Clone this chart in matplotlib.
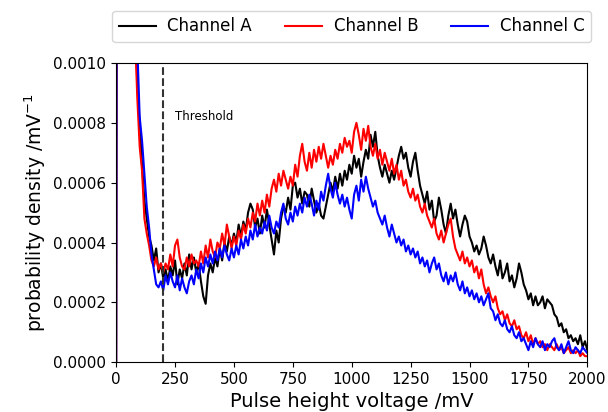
import numpy as np
import matplotlib
matplotlib.use("Agg")
import matplotlib.pyplot as plt

# Pulse height bins (mV), 10 mV spacing
voltage = np.arange(0, 2001, 10)

# probability densities in units of 1e-4 /mV
channel_a = [
    0, 60, 60, 50, 40, 30, 22, 16, 12, 9.2,
    8.0, 6.6, 5.4, 4.8, 4.2, 3.9, 3.4, 3.8, 3.0, 3.3,
    2.8, 3.1, 2.7, 3.2, 2.9, 3.4, 2.6, 3.1, 2.8, 3.3,
    2.9, 3.6, 3.1, 3.5, 3.0, 3.3, 2.7, 2.2, 1.95, 2.9,
    3.3, 3.0, 3.5, 3.2, 3.8, 3.4, 4.0, 3.7, 4.2, 3.9,
    4.3, 4.0, 4.6, 4.2, 4.7, 4.4, 5.0, 5.3, 5.1, 4.5,
    4.8, 4.3, 4.9, 4.5, 5.1, 4.6, 4.1, 3.6, 4.4, 4.0,
    4.8, 5.2, 5.0, 5.5, 5.1, 5.9, 6.0, 5.5, 5.8, 5.3,
    5.7, 5.6, 5.2, 5.8, 5.4, 5.0, 5.3, 4.9, 4.8, 5.2,
    5.6, 6.0, 5.7, 6.2, 5.8, 6.3, 5.9, 6.4, 6.1, 6.6,
    6.3, 6.9, 6.5, 6.8, 6.2, 6.7, 7.1, 6.8, 7.6, 7.2,
    7.7, 6.9, 6.5, 6.2, 6.6, 6.3, 6.0, 6.4, 6.1, 6.5,
    6.9, 7.2, 6.8, 7.0, 6.5, 6.2, 6.7, 7.0, 6.4, 5.9,
    5.6, 5.3, 5.7, 5.1, 5.4, 4.7, 4.9, 5.5, 5.1, 4.6,
    4.3, 4.9, 5.3, 4.8, 5.1, 4.6, 4.2, 4.6, 4.9, 4.7,
    4.2, 4.0, 3.7, 3.9, 3.6, 3.8, 4.2, 3.9, 3.5, 3.3,
    3.6, 3.2, 2.9, 3.4, 2.8, 3.0, 3.3, 2.7, 2.9, 2.5,
    2.8, 3.3, 3.0, 2.6, 2.4, 2.1, 2.3, 1.9, 2.2, 1.9,
    2.0, 2.2, 1.8, 2.1, 2.0, 1.9, 1.6, 1.5, 1.2, 1.3,
    1.0, 1.1, 0.8, 0.9, 0.7, 0.8, 0.6, 0.9, 0.5, 0.7,
    0.4,
]

channel_b = [
    0, 60, 60, 50, 40, 30, 22, 16, 11, 8.8,
    7.2, 6.4, 4.8, 4.3, 3.9, 3.4, 3.2, 3.5, 3.1, 3.3,
    3.0, 3.3, 3.1, 3.6, 3.2, 3.9, 4.1, 3.5, 3.2, 3.1,
    3.5, 3.2, 3.6, 3.3, 3.4, 3.2, 3.7, 3.3, 3.9, 3.5,
    4.1, 3.7, 3.5, 4.0, 3.8, 4.3, 3.9, 4.6, 4.2, 3.8,
    4.2, 3.9, 4.4, 4.1, 4.6, 4.3, 4.8, 4.5, 5.0, 4.7,
    5.3, 4.9, 5.4, 5.0, 5.6, 5.2, 5.8, 6.1, 5.7, 6.3,
    5.9, 6.4, 6.1, 5.8, 6.2, 5.9, 6.6, 6.2, 6.9, 7.3,
    6.7, 6.4, 7.0, 6.5, 7.1, 6.7, 7.2, 6.8, 7.3, 6.9,
    6.5, 6.9, 6.6, 7.1, 6.8, 7.3, 7.0, 7.5, 7.2, 7.4,
    7.0, 7.7, 8.0, 7.6, 7.1, 7.8, 7.4, 7.9, 7.2, 6.9,
    7.3, 6.8, 7.1, 6.6, 7.0, 6.7, 6.4, 6.8, 6.3, 6.6,
    6.1, 6.4, 5.9, 6.1, 5.7, 5.5, 5.8, 5.4, 5.6, 5.2,
    5.0, 5.3, 4.9, 4.7, 4.5, 4.8, 4.3, 4.1, 4.4, 4.0,
    4.3, 4.6, 4.8, 4.2, 3.8, 3.6, 3.4, 3.7, 3.3, 3.5,
    3.2, 3.4, 3.0, 3.2, 2.8, 3.1, 2.6, 2.3, 2.5, 2.2,
    2.0, 2.2, 1.8, 1.6, 1.7, 1.4, 1.6, 1.3, 1.2, 1.4,
    1.1, 1.2, 0.9, 0.8, 1.0, 0.7, 0.9, 0.6, 0.8, 0.6,
    0.7, 0.5, 0.6, 0.4, 0.6, 0.5, 0.4, 0.6, 0.4, 0.5,
    0.3, 0.4, 0.5, 0.3, 0.4, 0.3, 0.4, 0.2, 0.3, 0.2,
    0.2,
]

channel_c = [
    0, 60, 60, 50, 45, 35, 26, 20, 15, 10.5,
    8.2, 7.4, 6.3, 5.2, 4.5, 3.6, 3.1, 2.6, 2.5, 2.7,
    2.4, 2.9, 2.6, 3.0, 2.7, 2.5, 2.9, 2.4, 2.8, 2.5,
    2.3, 2.7, 2.9, 2.6, 3.1, 2.8, 3.3, 3.0, 3.5, 3.2,
    3.6, 3.3, 3.7, 3.4, 3.8, 3.5, 3.9, 3.6, 3.4, 3.8,
    3.5, 3.9, 3.6, 4.1, 3.8, 4.2, 3.9, 4.4, 4.1, 4.6,
    4.2, 4.5, 4.3, 4.7, 4.4, 4.9, 4.5, 4.3, 4.7, 4.5,
    5.0, 5.3, 4.8, 4.6, 5.0, 4.7, 5.2, 4.9, 5.3, 5.0,
    5.5, 5.2, 5.6, 5.3, 4.9, 5.4, 5.1, 5.7, 5.4, 5.9,
    6.3, 5.8, 5.5, 6.0, 5.6, 5.3, 5.6, 5.2, 5.5, 5.1,
    4.8, 5.6, 5.9, 5.4, 6.1, 5.7, 6.2, 5.8, 5.5, 5.2,
    5.4, 5.0, 4.8, 4.6, 4.9, 4.5, 4.2, 4.6, 4.3, 4.0,
    4.2, 3.9, 4.1, 3.7, 3.9, 3.6, 3.8, 3.5, 3.7, 3.3,
    3.5, 3.2, 3.4, 3.0, 3.3, 3.5, 3.1, 3.3, 2.9, 2.7,
    3.0, 2.6, 2.9, 2.7, 3.0, 2.6, 2.4, 2.7, 2.3, 2.5,
    2.2, 2.4, 2.1, 2.3, 2.0, 2.2, 1.9, 2.1, 2.3, 1.8,
    1.7, 1.4, 1.6, 1.3, 1.2, 1.4, 1.1, 1.0, 1.2, 0.9,
    0.8, 1.0, 0.7, 0.8, 0.6, 0.4, 0.7, 0.5, 0.8, 0.6,
    0.5, 0.7, 0.4, 0.6, 0.5, 0.7, 0.8, 0.5, 0.4, 0.6,
    0.3, 0.5, 0.7, 0.4, 0.3, 0.5, 0.4, 0.3, 0.5, 0.4,
    0.3,
]

labels = ["Channel A", "Channel B", "Channel C"]
colors = ["black", "red", "blue"]
threshold = 200
scale = 1e-4

fig = plt.figure(figsize=(6.08, 4.12), dpi=100)
ax = fig.add_axes([0.191, 0.121, 0.775, 0.726])

for vals, lab, col in zip([channel_a, channel_b, channel_c], labels, colors):
    ax.plot(voltage, np.array(vals) * scale, color=col, lw=1.5, label=lab)

ax.axvline(threshold, color="#333333", ls="--", lw=1.5)
ax.text(250, 0.00082, "Threshold", fontsize=8.5, va="center", ha="left")

ax.set_xlim(0, 2000)
ax.set_ylim(0, 0.001)
ax.set_xticks(np.arange(0, 2001, 250))
ax.set_yticks(np.arange(0, 0.00101, 0.0002))
ax.yaxis.set_major_formatter(matplotlib.ticker.FormatStrFormatter("%.4f"))
ax.tick_params(labelsize=11)
ax.set_xlabel("Pulse height voltage /mV", fontsize=14)
ax.set_ylabel("probability density /mV$^{-1}$", fontsize=13.5)

ax.legend(loc="lower center", bbox_to_anchor=(0.5, 1.07), ncol=3,
          fontsize=12, handlelength=2.2, handletextpad=0.7,
          columnspacing=2.0, borderaxespad=0)

fig.savefig("out.png", dpi=100)
